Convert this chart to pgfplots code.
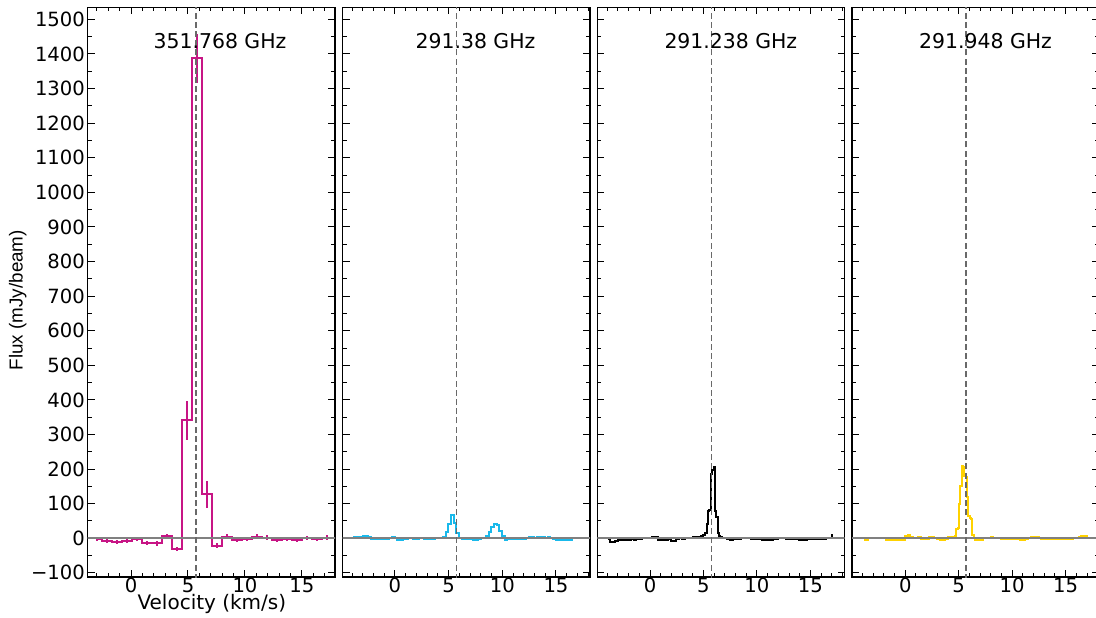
\documentclass[border=0pt]{standalone}
\usepackage{fontspec}
\setmainfont{DejaVu Sans}
\newfontfamily\labelfont{Liberation Sans}
\usepackage{pgfplots}
\usepackage{pgfplotstable}
\pgfplotsset{compat=1.18}

\definecolor{magc}{RGB}{199,21,133}
\definecolor{cyanc}{RGB}{25,185,235}
\definecolor{goldc}{RGB}{255,210,0}
\definecolor{zeroc}{RGB}{128,128,128}
\definecolor{sysc}{RGB}{105,105,105}

% 351.768 GHz: velocity, flux, error
\pgfplotstableread{
v f e
-3.02 -3 6
-2.14 -8 6
-1.26 -12 6
-0.38 -8 6
0.50 -2 6
1.37 -13 6
2.25 -15 6
3.13 6 6
4.01 -31 6
4.89 341 57
5.77 1387 70
6.65 127 40
7.53 -22 7
8.41 5 6
9.29 -6 6
10.16 -3 6
11.04 5 6
11.92 2 6
12.80 -5 6
13.68 -3 6
14.56 -4 6
15.44 1 6
16.31 -3 6
17.19 2 6
}\tabA

% 291.38 GHz
\pgfplotstableread{
v f
-3.90 2
-3.65 3
-3.40 4
-3.15 5
-2.90 6
-2.65 6
-2.40 3
-2.15 -2
-1.90 -3
-1.65 -2
-1.40 -1
-1.15 -2
-0.90 -1
-0.65 -3
-0.40 0
-0.15 4
0.10 2
0.35 -6
0.60 -5
0.85 -2
1.10 -1
1.35 2
1.60 1
1.85 -1
2.10 -2
2.35 0
2.60 1
2.85 -2
3.10 -1
3.35 -2
3.60 -1
3.85 0
4.10 0
4.35 2
4.60 4
4.85 18
5.10 42
5.35 66
5.60 44
5.85 14
6.10 0
6.35 -2
6.60 -1
6.85 -2
7.10 -1
7.35 -4
7.60 -4
7.85 -1
8.10 0
8.35 2
8.60 6
8.85 18
9.10 33
9.35 41
9.60 38
9.85 20
10.10 6
10.35 -4
10.60 -3
10.85 -2
11.10 -3
11.35 -2
11.60 -1
11.85 -2
12.10 -1
12.35 2
12.60 3
12.85 3
13.10 2
13.35 3
13.60 2
13.85 3
14.10 2
14.35 3
14.60 1
14.85 -1
15.10 -4
15.35 -5
15.60 -6
15.85 -5
16.10 -6
16.35 -4
16.60 0
16.85 2
17.10 1
}\tabB

% 291.238 GHz
\pgfplotstableread{
v f
-3.90 -2
-3.65 -10
-3.40 -10
-3.15 -7
-2.90 -6
-2.65 -6
-2.40 -5
-2.15 -4
-1.90 -4
-1.65 -3
-1.40 -4
-1.15 -3
-0.90 -1
-0.65 0
-0.40 2
-0.15 1
0.10 2
0.35 3
0.60 5
0.85 -6
1.10 -5
1.35 -6
1.60 -4
1.85 -3
2.10 -8
2.35 -7
2.60 -1
2.85 0
3.10 -1
3.35 1
3.60 0
3.85 2
4.10 3
4.35 4
4.60 5
4.85 7
5.00 9
5.125 10
5.25 14
5.375 40
5.50 80
5.625 82
5.75 185
5.875 196
6.00 205
6.125 80
6.25 62
6.375 15
6.50 6
6.60 4
6.85 2
7.10 1
7.35 -3
7.60 -5
7.85 -3
8.10 -2
8.35 -1
8.60 1
8.85 0
9.10 2
9.35 1
9.60 -1
9.85 -3
10.10 -2
10.35 -1
10.60 -4
10.85 -6
11.10 -6
11.35 -5
11.60 -3
11.85 -1
12.10 0
12.35 1
12.60 0
12.85 -1
13.10 -1
13.35 -2
13.60 -1
13.85 -3
14.10 -4
14.35 -6
14.60 -5
14.85 -2
15.10 -1
15.35 0
15.60 -2
15.85 -3
16.10 -2
16.35 -2
16.60 0
16.85 2
17.10 10
}\tabC

% 291.948 GHz
\pgfplotstableread{
v f
-3.90 2
-3.65 -6
-3.40 2
-3.15 2
-2.90 1
-2.65 2
-2.40 2
-2.15 1
-1.90 2
-1.65 -4
-1.40 -4
-1.15 -3
-0.90 -4
-0.65 -4
-0.40 -3
-0.15 -4
0.10 6
0.35 8
0.60 3
0.85 2
1.10 2
1.35 3
1.60 -3
1.85 -3
2.10 -2
2.35 3
2.60 3
2.85 2
3.10 -1
3.35 -6
3.60 -6
3.85 -2
4.10 3
4.35 4
4.60 4
4.725 6
4.85 28
4.975 30
5.10 100
5.225 150
5.35 208
5.475 205
5.60 180
5.725 177
5.85 120
5.975 64
6.10 60
6.225 55
6.35 9
6.475 2
6.60 -5
6.85 -6
7.10 -4
7.35 2
7.60 2
7.85 2
8.10 3
8.35 2
8.60 2
8.85 1
9.10 -1
9.35 -1
9.60 -1
9.85 -2
10.10 -1
10.35 -2
10.60 -3
10.85 -6
11.10 -6
11.35 -2
11.60 2
11.85 4
12.10 4
12.35 3
12.60 1
12.85 -1
13.10 -2
13.35 -1
13.60 -2
13.85 -3
14.10 -2
14.35 -2
14.60 -1
14.85 -2
15.10 -2
15.35 -1
15.60 -1
15.85 0
16.10 1
16.35 3
16.60 6
16.85 7
17.10 4
}\tabD

\pgfplotsset{
  spec/.style={
    scale only axis, width=123.65pt, height=284.85pt,
    ymin=-112, ymax=1535,
    xtick={0,5,10,15},
    minor xtick={-5,...,18},
    ytick={-100,0,...,1500},
    minor ytick={-100,-50,...,1500},
    tick pos=both, tick align=inside,
    major tick length=3.5pt, minor tick length=2pt,
    tick style={black, line width=0.5pt},
    axis line style={black, line width=0.65pt},
    /pgf/number format/assume math mode=true,
    tick label style={font=\fontsize{9.8}{11}\selectfont, inner sep=0.4pt},
    yticklabel style={inner xsep=1.2pt},
    clip=true,
  },
  spectrum/.style={const plot mark mid, line width=1pt, mark=none},
  zeroline/.style={zeroc, line width=0.8pt, forget plot},
  sysline/.style={sysc, line width=0.8pt, dash pattern=on 3pt off 1.6pt, forget plot},
}

\begin{document}
\begin{tikzpicture}
% panel 1
\begin{axis}[spec, at={(0pt,0pt)}, anchor=south west,
    xmin=-3.8, xmax=17.9,
    yticklabels={−100,0,100,200,300,400,500,600,700,800,900,1000,1100,1200,1300,1400,1500},
    xlabel={Velocity (km/s)},
    xlabel style={at={(axis description cs:0.502,-0.0475)}, anchor=center, inner sep=0pt, font=\fontsize{10}{12}\selectfont},
    ylabel={Flux (mJy/beam)},
    ylabel style={at={(axis description cs:-0.283,0.486)}, anchor=center, font=\labelfont\fontsize{9.4}{11}\selectfont},
  ]
  \addplot[spectrum, magc, error bars/.cd, y dir=both, y explicit, error mark=none,
           error bar style={line width=1pt, magc}]
    table[x=v, y=f, y error=e] {\tabA};
  \addplot[zeroline] coordinates {(-10,0) (25,0)};
  \addplot[sysline] coordinates {(5.72,-200) (5.72,1600)};
  \node[font=\fontsize{10.2}{12}\selectfont] at (rel axis cs:0.535,0.94) {351.768 GHz};
\end{axis}
% panel 2
\begin{axis}[spec, at={(127.5pt,0pt)}, anchor=south west,
    xmin=-4.87, xmax=18.17, yticklabels={}]
  \addplot[spectrum, cyanc] table[x=v, y=f] {\tabB};
  \addplot[zeroline] coordinates {(-10,0) (25,0)};
  \addplot[sysline] coordinates {(5.75,-200) (5.75,1600)};
  \node[font=\fontsize{10.2}{12}\selectfont] at (rel axis cs:0.537,0.94) {291.38 GHz};
\end{axis}
% panel 3
\begin{axis}[spec, at={(254.8pt,0pt)}, anchor=south west,
    xmin=-4.93, xmax=18.2, yticklabels={}]
  \addplot[spectrum, black] table[x=v, y=f] {\tabC};
  \addplot[zeroline] coordinates {(-10,0) (25,0)};
  \addplot[sysline] coordinates {(5.75,-200) (5.75,1600)};
  \node[font=\fontsize{10.2}{12}\selectfont] at (rel axis cs:0.54,0.94) {291.238 GHz};
\end{axis}
% panel 4
\begin{axis}[spec, at={(382.15pt,0pt)}, anchor=south west,
    xmin=-4.98, xmax=18.15, yticklabels={}]
  \addplot[spectrum, goldc] table[x=v, y=f] {\tabD};
  \addplot[zeroline] coordinates {(-10,0) (25,0)};
  \addplot[sysline] coordinates {(5.7,-200) (5.7,1600)};
  \node[font=\fontsize{10.2}{12}\selectfont] at (rel axis cs:0.54,0.94) {291.948 GHz};
\end{axis}
\pgfresetboundingbox
\useasboundingbox (-43.85pt,-20pt) rectangle (504.15pt,288.5pt);
\end{tikzpicture}
\end{document}
